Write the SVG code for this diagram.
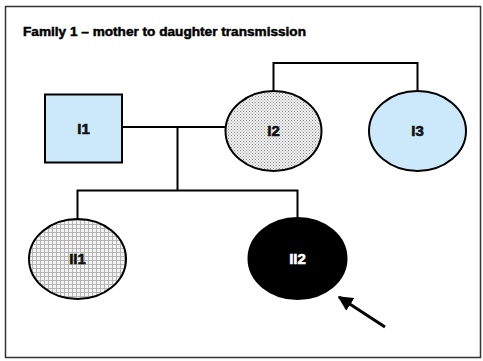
<svg xmlns="http://www.w3.org/2000/svg" width="483" height="361" viewBox="0 0 483 361">
<style>
.ln{fill:none;stroke:#000;stroke-width:2}
.nd{stroke:#000;stroke-width:2}
.lb{font-family:"Liberation Sans",Arial,sans-serif;font-weight:bold;font-size:15px;text-anchor:middle;fill:#111;stroke:#111;stroke-width:0.6}
.title{font-family:"Liberation Sans",Arial,sans-serif;font-weight:bold;font-size:12px;fill:#000;stroke:#000;stroke-width:0.45}
</style>
<defs>
<pattern id="dots" width="3" height="3" patternUnits="userSpaceOnUse">
<rect width="3" height="3" fill="#f2f2f2"/>
<rect x="0" y="0" width="1" height="1" fill="#888"/>
<rect x="1.5" y="1.5" width="1" height="1" fill="#999"/>
</pattern>
<pattern id="grid" width="4" height="4" patternUnits="userSpaceOnUse">
<rect width="4" height="4" fill="#f4f4f4"/>
<path d="M0 0.5H4M0.5 0V4" stroke="#b5b5b5" stroke-width="1"/>
</pattern>
<marker id="ah" viewBox="0 0 10 10" refX="9" refY="5" markerWidth="5" markerHeight="5" orient="auto" markerUnits="strokeWidth">
<path d="M0 0L10 5L0 10z" fill="#000"/>
</marker>
</defs>
<rect x="0" y="0" width="483" height="361" fill="#fff"/>
<rect x="5.5" y="6.5" width="475" height="351" fill="none" stroke="#333" stroke-width="1.5"/>
<text class="title" x="23" y="36" textLength="283" lengthAdjust="spacingAndGlyphs">Family 1 – mother to daughter transmission</text>
<g id="connectors">
<path class="ln" d="M122 127H225"/>
<path class="ln" d="M177.5 127V190.5"/>
<path class="ln" d="M77.5 219V190.5H297.5V218"/>
<path class="ln" d="M273.5 91V63H417.5V91"/>
<line x1="385" y1="327" x2="339" y2="297" stroke="#000" stroke-width="3" marker-end="url(#ah)"/>
</g>
<g id="I1">
<rect class="nd" x="45" y="94.5" width="77" height="68" fill="#cce9fc"/>
<text class="lb" x="83.5" y="134">I1</text>
</g>
<g id="I2">
<ellipse class="nd" cx="273.5" cy="131" rx="48" ry="40" fill="url(#dots)"/>
<text class="lb" x="273.5" y="136">I2</text>
</g>
<g id="I3">
<ellipse class="nd" cx="417.5" cy="131" rx="48.5" ry="40" fill="#cce9fc"/>
<text class="lb" x="417.5" y="136">I3</text>
</g>
<g id="II1">
<ellipse class="nd" cx="77.5" cy="259" rx="48.5" ry="40" fill="url(#grid)"/>
<text class="lb" x="77.5" y="264">II1</text>
</g>
<g id="II2">
<ellipse class="nd" cx="297.5" cy="258.5" rx="49" ry="40.5" fill="#000"/>
<text class="lb" x="297.5" y="264" style="fill:#fff;stroke:#fff">II2</text>
</g>
</svg>
